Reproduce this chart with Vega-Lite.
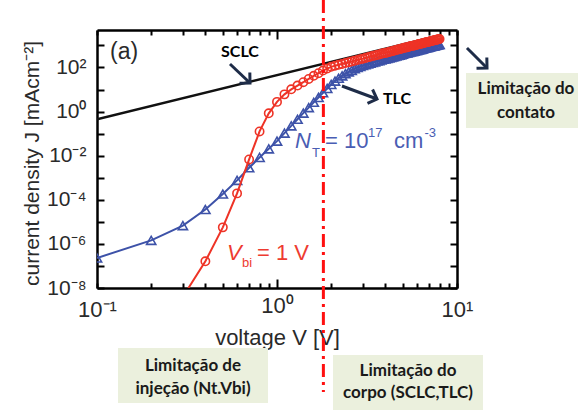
{
  "$schema": "https://vega.github.io/schema/vega-lite/v6.json",
  "width": 360,
  "height": 258,
  "autosize": {"type": "none"},
  "padding": {"left": 97, "top": 30, "right": 121, "bottom": 122},
  "background": "white",
  "config": {
    "view": {"stroke": null},
    "font": "Liberation Sans",
    "axis": {
      "grid": false,
      "domainColor": "black",
      "domainWidth": 2.5,
      "tickColor": "black",
      "tickWidth": 2,
      "labelFont": "Liberation Sans",
      "titleFont": "Liberation Sans",
      "labelColor": "#2a2a2a",
      "titleColor": "#2a2a2a",
      "titleFontWeight": "normal"
    }
  },
  "datasets": {
    "sclc": [
      {"V": 0.1, "J": 0.447},
      {"V": 8.0, "J": 2858}
    ],
    "nt": [
      {"V": 0.1, "J": 2.29e-7}, {"V": 0.2, "J": 1.45e-6}, {"V": 0.3, "J": 6.76e-6}, {"V": 0.4, "J": 3.63e-5},
      {"V": 0.5, "J": 1.82e-4}, {"V": 0.6, "J": 7.59e-4}, {"V": 0.7, "J": 2.82e-3}, {"V": 0.8, "J": 8.32e-3},
      {"V": 0.9, "J": 0.0204}, {"V": 1.0, "J": 0.0457}, {"V": 1.1, "J": 0.105}, {"V": 1.2, "J": 0.224},
      {"V": 1.3, "J": 0.447}, {"V": 1.4, "J": 0.851}, {"V": 1.5, "J": 1.51}, {"V": 1.6, "J": 2.63},
      {"V": 1.7, "J": 4.37}, {"V": 1.8, "J": 7.08}, {"V": 1.9, "J": 11.2}, {"V": 2.0, "J": 17.0},
      {"V": 2.1, "J": 24.0}, {"V": 2.2, "J": 32.4}, {"V": 2.3, "J": 41.7}, {"V": 2.4, "J": 52.5},
      {"V": 2.5, "J": 63.1}, {"V": 2.6, "J": 74.1}, {"V": 2.7, "J": 87.1}, {"V": 2.8, "J": 100},
      {"V": 2.9, "J": 112}, {"V": 3.0, "J": 123}, {"V": 3.1, "J": 132}, {"V": 3.2, "J": 145},
      {"V": 3.3, "J": 155}, {"V": 3.4, "J": 170}, {"V": 3.5, "J": 178}, {"V": 3.6, "J": 195},
      {"V": 3.7, "J": 204}, {"V": 3.8, "J": 219}, {"V": 3.9, "J": 234}, {"V": 4.0, "J": 245},
      {"V": 4.1, "J": 257}, {"V": 4.2, "J": 269}, {"V": 4.3, "J": 288}, {"V": 4.4, "J": 302},
      {"V": 4.5, "J": 316}, {"V": 4.6, "J": 331}, {"V": 4.7, "J": 347}, {"V": 4.8, "J": 363},
      {"V": 4.9, "J": 380}, {"V": 5.0, "J": 398}, {"V": 5.1, "J": 427}, {"V": 5.2, "J": 447},
      {"V": 5.3, "J": 457}, {"V": 5.4, "J": 479}, {"V": 5.5, "J": 501}, {"V": 5.6, "J": 513},
      {"V": 5.7, "J": 537}, {"V": 5.8, "J": 550}, {"V": 5.9, "J": 575}, {"V": 6.0, "J": 589},
      {"V": 6.1, "J": 617}, {"V": 6.2, "J": 631}, {"V": 6.3, "J": 661}, {"V": 6.4, "J": 676},
      {"V": 6.5, "J": 708}, {"V": 6.6, "J": 741}, {"V": 6.7, "J": 759}, {"V": 6.8, "J": 794},
      {"V": 6.9, "J": 813}, {"V": 7.0, "J": 832}, {"V": 7.1, "J": 871}, {"V": 7.2, "J": 891},
      {"V": 7.3, "J": 912}, {"V": 7.4, "J": 933}, {"V": 7.5, "J": 955}, {"V": 7.6, "J": 1000},
      {"V": 7.7, "J": 1023}, {"V": 7.8, "J": 1047}, {"V": 7.9, "J": 1072}, {"V": 8.0, "J": 1096}
    ],
    "vbi": [
      {"V": 0.3, "J": 3.98e-9}, {"V": 0.4, "J": 1.62e-7}, {"V": 0.5, "J": 5.62e-6}, {"V": 0.6, "J": 1.95e-4},
      {"V": 0.7, "J": 6.76e-3}, {"V": 0.8, "J": 0.126}, {"V": 0.9, "J": 0.832}, {"V": 1.0, "J": 2.75},
      {"V": 1.1, "J": 6.03}, {"V": 1.2, "J": 10.2}, {"V": 1.3, "J": 15.1}, {"V": 1.4, "J": 21.4},
      {"V": 1.5, "J": 30.2}, {"V": 1.6, "J": 41.7}, {"V": 1.7, "J": 55.0}, {"V": 1.8, "J": 72.4},
      {"V": 1.9, "J": 89.1}, {"V": 2.0, "J": 107}, {"V": 2.1, "J": 120}, {"V": 2.2, "J": 132},
      {"V": 2.3, "J": 145}, {"V": 2.4, "J": 158}, {"V": 2.5, "J": 174}, {"V": 2.6, "J": 186},
      {"V": 2.7, "J": 200}, {"V": 2.8, "J": 219}, {"V": 2.9, "J": 234}, {"V": 3.0, "J": 251},
      {"V": 3.1, "J": 269}, {"V": 3.2, "J": 288}, {"V": 3.3, "J": 309}, {"V": 3.4, "J": 331},
      {"V": 3.5, "J": 347}, {"V": 3.6, "J": 372}, {"V": 3.7, "J": 389}, {"V": 3.8, "J": 417},
      {"V": 3.9, "J": 437}, {"V": 4.0, "J": 457}, {"V": 4.1, "J": 479}, {"V": 4.2, "J": 501},
      {"V": 4.3, "J": 537}, {"V": 4.4, "J": 562}, {"V": 4.5, "J": 589}, {"V": 4.6, "J": 617},
      {"V": 4.7, "J": 646}, {"V": 4.8, "J": 676}, {"V": 4.9, "J": 708}, {"V": 5.0, "J": 741},
      {"V": 5.1, "J": 776}, {"V": 5.2, "J": 813}, {"V": 5.3, "J": 832}, {"V": 5.4, "J": 871},
      {"V": 5.5, "J": 912}, {"V": 5.6, "J": 933}, {"V": 5.7, "J": 977}, {"V": 5.8, "J": 1000},
      {"V": 5.9, "J": 1047}, {"V": 6.0, "J": 1072}, {"V": 6.1, "J": 1122}, {"V": 6.2, "J": 1148},
      {"V": 6.3, "J": 1202}, {"V": 6.4, "J": 1230}, {"V": 6.5, "J": 1288}, {"V": 6.6, "J": 1318},
      {"V": 6.7, "J": 1349}, {"V": 6.8, "J": 1413}, {"V": 6.9, "J": 1445}, {"V": 7.0, "J": 1479},
      {"V": 7.1, "J": 1549}, {"V": 7.2, "J": 1585}, {"V": 7.3, "J": 1622}, {"V": 7.4, "J": 1660},
      {"V": 7.5, "J": 1698}, {"V": 7.6, "J": 1778}, {"V": 7.7, "J": 1820}, {"V": 7.8, "J": 1862},
      {"V": 7.9, "J": 1905}, {"V": 8.0, "J": 1950}
    ],
    "divider": [{"V": 1.81, "J": 115000, "J2": 1.9e-13}],
    "boxes": [
      {"V": 11.22, "V2": 47.0, "J": 56.1, "J2": 0.18},
      {"V": 0.1308, "V2": 0.891, "J": 1.89e-11, "J2": 6.07e-14},
      {"V": 2.047, "V2": 13.94, "J": 9.12e-12, "J2": 2.92e-14}
    ],
    "arrows": [
      {"id": "a1", "V": 0.548, "J": 143.6, "V2": 0.708, "J2": 19.7},
      {"id": "a2", "V": 2.296, "J": 14.4, "V2": 3.594, "J2": 3.715},
      {"id": "a3", "V": 11.36, "J": 763, "V2": 14.68, "J2": 94.6}
    ],
    "notes": [
      {"g": "box", "V": 24.17, "J": 10.5, "t": "Limitação do"},
      {"g": "box", "V": 24.17, "J": 0.861, "t": "contato"},
      {"g": "box", "V": 0.3415, "J": 2.89e-12, "t": "Limitação de"},
      {"g": "box", "V": 0.3415, "J": 2.62e-13, "t": "injeção (Nt.Vbi)"},
      {"g": "box", "V": 5.343, "J": 1.714e-12, "t": "Limitação do"},
      {"g": "box", "V": 5.343, "J": 1.72e-13, "t": "corpo (SCLC,TLC)"},
      {"g": "lbl", "V": 0.623, "J": 502, "t": "SCLC"},
      {"g": "lbl", "V": 4.64, "J": 3.71, "t": "TLC"},
      {"g": "panel", "V": 0.1181, "J": 502, "t": "(a)"},
      {"g": "ntI", "V": 1.259, "J": 0.02228, "t": "N"},
      {"g": "ntM", "V": 1.848, "J": 0.02228, "t": "= 10"},
      {"g": "ntM", "V": 4.47, "J": 0.02228, "t": "cm"},
      {"g": "ntS", "V": 1.565, "J": 0.0087, "t": "T"},
      {"g": "ntS", "V": 3.2, "J": 0.0702, "t": "17"},
      {"g": "ntS", "V": 6.6, "J": 0.0702, "t": "-3"},
      {"g": "vI", "V": 0.5275, "J": 1.854e-7, "t": "V"},
      {"g": "vM", "V": 0.774, "J": 1.854e-7, "t": "= 1 V"},
      {"g": "vS", "V": 0.639, "J": 8.93e-8, "t": "bi"}
    ]
  },
  "layer": [
    {
      "data": {"name": "sclc"},
      "mark": {"type": "line", "color": "#111111", "strokeWidth": 2.5, "clip": true},
      "encoding": {
        "x": {
          "field": "V", "type": "quantitative",
          "scale": {"type": "log", "domain": [0.1, 10], "nice": false},
          "axis": {
            "orient": "bottom",
            "values": [0.1, 0.2, 0.3, 0.4, 0.5, 0.6, 0.7, 0.8, 0.9, 1, 2, 3, 4, 5, 6, 7, 8, 9, 10],
            "labelExpr": "datum.value==0.1?'10⁻¹':datum.value==1?'10⁰':datum.value==10?'10¹':''",
            "tickSize": {"condition": {"test": "datum.value==1", "value": -9}, "value": -5},
            "labelFontSize": 22,
            "labelPadding": 16,
            "labelFlush": false,
            "labelOverlap": false,
            "title": "voltage V [V]",
            "titleFontSize": 22,
            "titlePadding": 7
          }
        },
        "y": {
          "field": "J", "type": "quantitative",
          "scale": {"type": "log", "domain": [1e-8, 5000], "nice": false},
          "axis": {
            "orient": "left",
            "values": [1e-8, 1e-7, 1e-6, 1e-5, 1e-4, 1e-3, 0.01, 0.1, 1, 10, 100, 1000],
            "labelExpr": "datum.value==1e-8?'10⁻⁸':datum.value==1e-6?'10⁻⁶':datum.value==1e-4?'10⁻⁴':datum.value==0.01?'10⁻²':datum.value==1?'10⁰':datum.value==100?'10²':''",
            "tickSize": -7,
            "labelFontSize": 21,
            "labelPadding": 18,
            "labelFlush": false,
            "labelOverlap": false,
            "title": "current density J [mAcm⁻²]",
            "titleFontSize": 21,
            "titleX": -59,
            "titleY": 133,
            "titleAlign": "center",
            "titleBaseline": "alphabetic"
          }
        }
      }
    },
    {
      "data": {"name": "nt"},
      "mark": {"type": "line", "color": "#3d52a8", "strokeWidth": 2, "clip": true},
      "encoding": {
        "x": {
          "field": "V", "type": "quantitative",
          "scale": {"type": "log", "domain": [0.1, 10], "nice": false},
          "axis": {
            "orient": "top",
            "values": [0.1, 0.2, 0.3, 0.4, 0.5, 0.6, 0.7, 0.8, 0.9, 1, 2, 3, 4, 5, 6, 7, 8, 9, 10],
            "labels": false,
            "tickSize": {"condition": {"test": "datum.value==1", "value": -9}, "value": -5},
            "title": null
          }
        },
        "y": {
          "field": "J", "type": "quantitative",
          "scale": {"type": "log", "domain": [1e-8, 5000], "nice": false},
          "axis": {
            "orient": "right",
            "values": [1e-8, 1e-7, 1e-6, 1e-5, 1e-4, 1e-3, 0.01, 0.1, 1, 10, 100, 1000],
            "labels": false,
            "tickSize": -7,
            "title": null
          }
        }
      }
    },
    {
      "data": {"name": "nt"},
      "mark": {"type": "point", "shape": "triangle-up", "filled": false, "color": "#3d52a8", "strokeWidth": 1.6, "size": 85, "opacity": 1, "clip": true},
      "encoding": {
        "x": {"field": "V", "type": "quantitative", "scale": {"type": "log", "domain": [0.1, 10], "nice": false}, "axis": null},
        "y": {"field": "J", "type": "quantitative", "scale": {"type": "log", "domain": [1e-8, 5000], "nice": false}, "axis": null}
      }
    },
    {
      "data": {"name": "vbi"},
      "mark": {"type": "line", "color": "#ee3326", "strokeWidth": 2, "clip": true},
      "encoding": {
        "x": {"field": "V", "type": "quantitative", "scale": {"type": "log", "domain": [0.1, 10], "nice": false}, "axis": null},
        "y": {"field": "J", "type": "quantitative", "scale": {"type": "log", "domain": [1e-8, 5000], "nice": false}, "axis": null}
      }
    },
    {
      "data": {"name": "vbi"},
      "transform": [{"filter": "datum.V >= 0.35"}],
      "mark": {"type": "point", "shape": "circle", "filled": false, "color": "#ee3326", "strokeWidth": 1.6, "size": 70, "opacity": 1, "clip": true},
      "encoding": {
        "x": {"field": "V", "type": "quantitative", "scale": {"type": "log", "domain": [0.1, 10], "nice": false}, "axis": null},
        "y": {"field": "J", "type": "quantitative", "scale": {"type": "log", "domain": [1e-8, 5000], "nice": false}, "axis": null}
      }
    },
    {
      "data": {"name": "divider"},
      "mark": {"type": "rule", "color": "#ff1010", "strokeWidth": 3, "strokeDash": [13, 5, 3, 5]},
      "encoding": {
        "x": {"field": "V", "type": "quantitative", "scale": {"type": "log", "domain": [0.1, 10], "nice": false}, "axis": null},
        "y": {"field": "J", "type": "quantitative", "scale": {"type": "log", "domain": [1e-8, 5000], "nice": false}, "axis": null},
        "y2": {"field": "J2"}
      }
    },
    {
      "data": {"name": "boxes"},
      "mark": {"type": "rect", "color": "#ebf0dd"},
      "encoding": {
        "x": {"field": "V", "type": "quantitative", "scale": {"type": "log", "domain": [0.1, 10], "nice": false}, "axis": null},
        "x2": {"field": "V2"},
        "y": {"field": "J", "type": "quantitative", "scale": {"type": "log", "domain": [1e-8, 5000], "nice": false}, "axis": null},
        "y2": {"field": "J2"}
      }
    },
    {
      "data": {"name": "arrows"},
      "mark": {"type": "rule", "color": "#1e2c48", "strokeWidth": 3},
      "encoding": {
        "x": {"field": "V", "type": "quantitative", "scale": {"type": "log", "domain": [0.1, 10], "nice": false}, "axis": null},
        "x2": {"field": "V2"},
        "y": {"field": "J", "type": "quantitative", "scale": {"type": "log", "domain": [1e-8, 5000], "nice": false}, "axis": null},
        "y2": {"field": "J2"}
      }
    },
    {
      "data": {"name": "arrows"},
      "transform": [{"filter": "datum.id != 'a2'"}],
      "mark": {"type": "point", "shape": "M-1,-1L0,0L-1,1", "filled": false, "color": "#1e2c48", "strokeWidth": 3, "size": 220, "opacity": 1, "angle": 44, "strokeJoin": "miter"},
      "encoding": {
        "x": {"field": "V2", "type": "quantitative", "scale": {"type": "log", "domain": [0.1, 10], "nice": false}, "axis": null},
        "y": {"field": "J2", "type": "quantitative", "scale": {"type": "log", "domain": [1e-8, 5000], "nice": false}, "axis": null}
      }
    },
    {
      "data": {"name": "arrows"},
      "transform": [{"filter": "datum.id == 'a2'"}],
      "mark": {"type": "point", "shape": "M-1,-1L0,0L-1,1", "filled": false, "color": "#1e2c48", "strokeWidth": 3, "size": 220, "opacity": 1, "angle": 20, "strokeJoin": "miter"},
      "encoding": {
        "x": {"field": "V2", "type": "quantitative", "scale": {"type": "log", "domain": [0.1, 10], "nice": false}, "axis": null},
        "y": {"field": "J2", "type": "quantitative", "scale": {"type": "log", "domain": [1e-8, 5000], "nice": false}, "axis": null}
      }
    },
    {
      "data": {"name": "notes"},
      "transform": [{"filter": "datum.g == 'box'"}],
      "mark": {"type": "text", "font": "Lato", "fontWeight": "bold", "fontSize": 17, "color": "#1a1a1a", "align": "center", "baseline": "middle"},
      "encoding": {
        "x": {"field": "V", "type": "quantitative", "scale": {"type": "log", "domain": [0.1, 10], "nice": false}, "axis": null},
        "y": {"field": "J", "type": "quantitative", "scale": {"type": "log", "domain": [1e-8, 5000], "nice": false}, "axis": null},
        "text": {"field": "t"}
      }
    },
    {
      "data": {"name": "notes"},
      "transform": [{"filter": "datum.g == 'lbl'"}],
      "mark": {"type": "text", "font": "Lato", "fontWeight": "bold", "fontSize": 16, "color": "#000000", "align": "center", "baseline": "middle"},
      "encoding": {
        "x": {"field": "V", "type": "quantitative", "scale": {"type": "log", "domain": [0.1, 10], "nice": false}, "axis": null},
        "y": {"field": "J", "type": "quantitative", "scale": {"type": "log", "domain": [1e-8, 5000], "nice": false}, "axis": null},
        "text": {"field": "t"}
      }
    },
    {
      "data": {"name": "notes"},
      "transform": [{"filter": "datum.g == 'panel'"}],
      "mark": {"type": "text", "font": "Liberation Sans", "fontSize": 23, "color": "#2a2a2a", "align": "left", "baseline": "middle"},
      "encoding": {
        "x": {"field": "V", "type": "quantitative", "scale": {"type": "log", "domain": [0.1, 10], "nice": false}, "axis": null},
        "y": {"field": "J", "type": "quantitative", "scale": {"type": "log", "domain": [1e-8, 5000], "nice": false}, "axis": null},
        "text": {"field": "t"}
      }
    },
    {
      "data": {"name": "notes"},
      "transform": [{"filter": "datum.g == 'ntI'"}],
      "mark": {"type": "text", "font": "Liberation Sans", "fontSize": 22, "fontStyle": "italic", "color": "#4a5db3", "align": "left", "baseline": "alphabetic"},
      "encoding": {
        "x": {"field": "V", "type": "quantitative", "scale": {"type": "log", "domain": [0.1, 10], "nice": false}, "axis": null},
        "y": {"field": "J", "type": "quantitative", "scale": {"type": "log", "domain": [1e-8, 5000], "nice": false}, "axis": null},
        "text": {"field": "t"}
      }
    },
    {
      "data": {"name": "notes"},
      "transform": [{"filter": "datum.g == 'ntM'"}],
      "mark": {"type": "text", "font": "Liberation Sans", "fontSize": 22, "color": "#4a5db3", "align": "left", "baseline": "alphabetic"},
      "encoding": {
        "x": {"field": "V", "type": "quantitative", "scale": {"type": "log", "domain": [0.1, 10], "nice": false}, "axis": null},
        "y": {"field": "J", "type": "quantitative", "scale": {"type": "log", "domain": [1e-8, 5000], "nice": false}, "axis": null},
        "text": {"field": "t"}
      }
    },
    {
      "data": {"name": "notes"},
      "transform": [{"filter": "datum.g == 'ntS'"}],
      "mark": {"type": "text", "font": "Liberation Sans", "fontSize": 13, "color": "#4a5db3", "align": "left", "baseline": "alphabetic"},
      "encoding": {
        "x": {"field": "V", "type": "quantitative", "scale": {"type": "log", "domain": [0.1, 10], "nice": false}, "axis": null},
        "y": {"field": "J", "type": "quantitative", "scale": {"type": "log", "domain": [1e-8, 5000], "nice": false}, "axis": null},
        "text": {"field": "t"}
      }
    },
    {
      "data": {"name": "notes"},
      "transform": [{"filter": "datum.g == 'vI'"}],
      "mark": {"type": "text", "font": "Liberation Sans", "fontSize": 22, "fontStyle": "italic", "color": "#ee3b30", "align": "left", "baseline": "alphabetic"},
      "encoding": {
        "x": {"field": "V", "type": "quantitative", "scale": {"type": "log", "domain": [0.1, 10], "nice": false}, "axis": null},
        "y": {"field": "J", "type": "quantitative", "scale": {"type": "log", "domain": [1e-8, 5000], "nice": false}, "axis": null},
        "text": {"field": "t"}
      }
    },
    {
      "data": {"name": "notes"},
      "transform": [{"filter": "datum.g == 'vM'"}],
      "mark": {"type": "text", "font": "Liberation Sans", "fontSize": 22, "color": "#ee3b30", "align": "left", "baseline": "alphabetic"},
      "encoding": {
        "x": {"field": "V", "type": "quantitative", "scale": {"type": "log", "domain": [0.1, 10], "nice": false}, "axis": null},
        "y": {"field": "J", "type": "quantitative", "scale": {"type": "log", "domain": [1e-8, 5000], "nice": false}, "axis": null},
        "text": {"field": "t"}
      }
    },
    {
      "data": {"name": "notes"},
      "transform": [{"filter": "datum.g == 'vS'"}],
      "mark": {"type": "text", "font": "Liberation Sans", "fontSize": 13, "color": "#ee3b30", "align": "left", "baseline": "alphabetic"},
      "encoding": {
        "x": {"field": "V", "type": "quantitative", "scale": {"type": "log", "domain": [0.1, 10], "nice": false}, "axis": null},
        "y": {"field": "J", "type": "quantitative", "scale": {"type": "log", "domain": [1e-8, 5000], "nice": false}, "axis": null},
        "text": {"field": "t"}
      }
    }
  ],
  "resolve": {"axis": {"x": "independent", "y": "independent"}}
}
